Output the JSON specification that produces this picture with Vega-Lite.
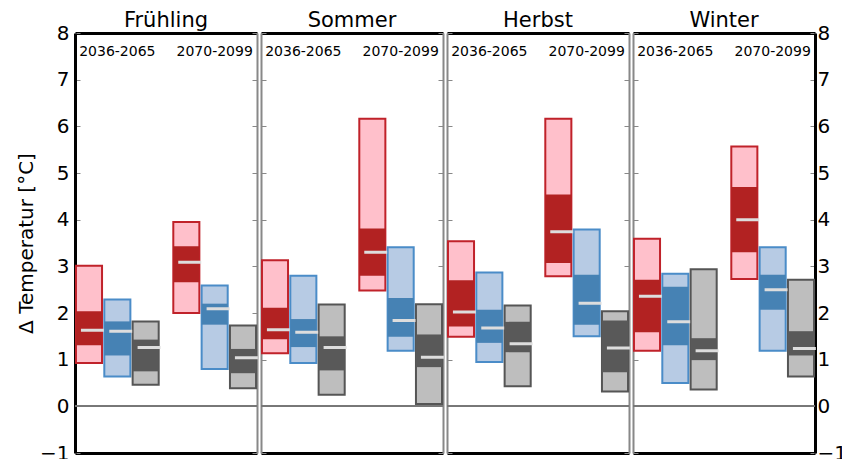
{
  "$schema": "https://vega.github.io/schema/vega-lite/v6.json",
  "padding": {"left": 16, "top": 10, "right": 2, "bottom": 4},
  "config": {
    "font": "DejaVu Sans",
    "view": {"stroke": null},
    "title": {"fontSize": 21, "fontWeight": "normal", "color": "black", "offset": -12, "font": "DejaVu Sans"},
    "axis": {"grid": false}
  },
  "datasets": {
    "bars": [
      {"season": "Frühling", "period": "2036-2065", "scenario": "RCP8.5", "min": 0.93, "lo": 1.31, "median": 1.63, "hi": 2.04, "max": 3.01},
      {"season": "Frühling", "period": "2036-2065", "scenario": "RCP4.5", "min": 0.64, "lo": 1.09, "median": 1.61, "hi": 1.82, "max": 2.29},
      {"season": "Frühling", "period": "2036-2065", "scenario": "RCP2.6", "min": 0.46, "lo": 0.75, "median": 1.26, "hi": 1.43, "max": 1.82},
      {"season": "Frühling", "period": "2070-2099", "scenario": "RCP8.5", "min": 2.0, "lo": 2.66, "median": 3.09, "hi": 3.43, "max": 3.95},
      {"season": "Frühling", "period": "2070-2099", "scenario": "RCP4.5", "min": 0.8, "lo": 1.75, "median": 2.09, "hi": 2.2, "max": 2.59},
      {"season": "Frühling", "period": "2070-2099", "scenario": "RCP2.6", "min": 0.39, "lo": 0.71, "median": 1.04, "hi": 1.23, "max": 1.73},
      {"season": "Sommer", "period": "2036-2065", "scenario": "RCP8.5", "min": 1.14, "lo": 1.44, "median": 1.64, "hi": 2.11, "max": 3.13},
      {"season": "Sommer", "period": "2036-2065", "scenario": "RCP4.5", "min": 0.93, "lo": 1.27, "median": 1.59, "hi": 1.87, "max": 2.8},
      {"season": "Sommer", "period": "2036-2065", "scenario": "RCP2.6", "min": 0.25, "lo": 0.77, "median": 1.26, "hi": 1.5, "max": 2.18},
      {"season": "Sommer", "period": "2070-2099", "scenario": "RCP8.5", "min": 2.48, "lo": 2.8, "median": 3.3, "hi": 3.81, "max": 6.16},
      {"season": "Sommer", "period": "2070-2099", "scenario": "RCP4.5", "min": 1.19, "lo": 1.49, "median": 1.84, "hi": 2.32, "max": 3.41},
      {"season": "Sommer", "period": "2070-2099", "scenario": "RCP2.6", "min": 0.05, "lo": 0.84, "median": 1.05, "hi": 1.54, "max": 2.19},
      {"season": "Herbst", "period": "2036-2065", "scenario": "RCP8.5", "min": 1.49, "lo": 1.71, "median": 2.02, "hi": 2.7, "max": 3.54},
      {"season": "Herbst", "period": "2036-2065", "scenario": "RCP4.5", "min": 0.95, "lo": 1.36, "median": 1.68, "hi": 2.07, "max": 2.87},
      {"season": "Herbst", "period": "2036-2065", "scenario": "RCP2.6", "min": 0.43, "lo": 1.16, "median": 1.34, "hi": 1.81, "max": 2.16},
      {"season": "Herbst", "period": "2070-2099", "scenario": "RCP8.5", "min": 2.79, "lo": 3.07, "median": 3.74, "hi": 4.54, "max": 6.16},
      {"season": "Herbst", "period": "2070-2099", "scenario": "RCP4.5", "min": 1.5, "lo": 1.75, "median": 2.21, "hi": 2.82, "max": 3.79},
      {"season": "Herbst", "period": "2070-2099", "scenario": "RCP2.6", "min": 0.32, "lo": 0.73, "median": 1.25, "hi": 1.84, "max": 2.04},
      {"season": "Winter", "period": "2036-2065", "scenario": "RCP8.5", "min": 1.19, "lo": 1.59, "median": 2.36, "hi": 2.71, "max": 3.59},
      {"season": "Winter", "period": "2036-2065", "scenario": "RCP4.5", "min": 0.5, "lo": 1.31, "median": 1.81, "hi": 2.56, "max": 2.84},
      {"season": "Winter", "period": "2036-2065", "scenario": "RCP2.6", "min": 0.36, "lo": 0.99, "median": 1.19, "hi": 1.46, "max": 2.94},
      {"season": "Winter", "period": "2070-2099", "scenario": "RCP8.5", "min": 2.73, "lo": 3.3, "median": 4.0, "hi": 4.7, "max": 5.57},
      {"season": "Winter", "period": "2070-2099", "scenario": "RCP4.5", "min": 1.19, "lo": 2.07, "median": 2.5, "hi": 2.82, "max": 3.41},
      {"season": "Winter", "period": "2070-2099", "scenario": "RCP2.6", "min": 0.64, "lo": 1.09, "median": 1.24, "hi": 1.61, "max": 2.71}
    ],
    "periods": [{"period": "2036-2065"}, {"period": "2070-2099"}]
  },
  "spacing": 0,
  "hconcat": [
    {
      "width": 182, "height": 420,
      "title": "Frühling",
      "resolve": {"axis": {"x": "independent", "y": "independent"}, "scale": {"fill": "independent", "stroke": "independent"}},
      "layer": [
        {"data": {"name": "bars"}, "transform": [{"filter": "datum.season == 'Frühling'"}],
         "mark": {"type": "rule", "stroke": "#777", "strokeWidth": 1.5},
         "encoding": {"y": {"datum": 0, "type": "quantitative", "scale": {"domain": [-1, 8], "nice": false, "zero": false},
           "axis": {"orient": "left", "values": [-1,0,1,2,3,4,5,6,7,8], "domainColor": "black", "domainWidth": 3, "tickColor": "#888", "tickSize": -5, "tickWidth": 1, "labelFontSize": 20, "labelColor": "black", "labelPadding": 11, "title": "Δ Temperatur [°C]", "titleFontSize": 20, "titleFontWeight": "normal", "titleColor": "black", "titlePadding": 3}}}},
        {"data": {"name": "bars"}, "transform": [{"filter": "datum.season == 'Frühling'"}],
         "mark": {"type": "bar", "strokeWidth": 2, "width": {"band": 1}},
         "encoding": {
           "x": {"field": "period", "type": "nominal", "scale": {"paddingInner": 0.15, "paddingOuter": 0.01}, "axis": {"orient": "bottom", "labels": false, "ticks": false, "title": null, "domainColor": "black", "domainWidth": 3}},
           "xOffset": {"field": "scenario", "type": "nominal", "sort": ["RCP8.5", "RCP4.5", "RCP2.6"], "scale": {"paddingInner": 0.08}},
           "y": {"field": "min", "type": "quantitative", "axis": {"orient": "right", "values": [-1,0,1,2,3,4,5,6,7,8], "labels": false, "title": null, "domainColor": "#888", "domainWidth": 2, "tickColor": "#888", "tickSize": -5}},
           "y2": {"field": "max"},
           "fill": {"field": "scenario", "type": "nominal", "scale": {"domain": ["RCP8.5", "RCP4.5", "RCP2.6"], "range": ["#ffc0cb", "#b7cbe4", "#bebebe"]}, "legend": null},
           "stroke": {"field": "scenario", "type": "nominal", "scale": {"domain": ["RCP8.5", "RCP4.5", "RCP2.6"], "range": ["#c0222a", "#4a8cc8", "#555555"]}, "legend": null}
         }},
        {"data": {"name": "bars"}, "transform": [{"filter": "datum.season == 'Frühling'"}],
         "mark": {"type": "bar", "width": {"band": 1}},
         "encoding": {
           "x": {"field": "period", "type": "nominal", "axis": {"orient": "top", "labels": false, "ticks": true, "tickSize": 14, "tickOpacity": 0, "title": null, "domainColor": "black", "domainWidth": 3}},
           "xOffset": {"field": "scenario", "type": "nominal", "sort": ["RCP8.5", "RCP4.5", "RCP2.6"]},
           "y": {"field": "lo", "type": "quantitative", "axis": null},
           "y2": {"field": "hi"},
           "fill": {"field": "scenario", "type": "nominal", "scale": {"domain": ["RCP8.5", "RCP4.5", "RCP2.6"], "range": ["#b22222", "#4682b4", "#595959"]}, "legend": null}
         }},
        {"data": {"name": "bars"}, "transform": [{"filter": "datum.season == 'Frühling'"}],
         "mark": {"type": "bar", "width": {"band": 0.88}, "stroke": "#dddddd", "strokeWidth": 3, "fill": "#dddddd"},
         "encoding": {
           "x": {"field": "period", "type": "nominal", "axis": null},
           "xOffset": {"field": "scenario", "type": "nominal", "sort": ["RCP8.5", "RCP4.5", "RCP2.6"]},
           "y": {"field": "median", "type": "quantitative", "axis": null},
           "y2": {"field": "median"}
         }},
        {"data": {"name": "periods"},
         "mark": {"type": "text", "fontSize": 14, "color": "black", "baseline": "middle"},
         "encoding": {
           "x": {"field": "period", "type": "nominal", "axis": null},
           "y": {"datum": 7.6, "type": "quantitative", "axis": null},
           "text": {"field": "period"}
         }}
      ]
    },
    {
      "width": 182, "height": 420,
      "title": "Sommer",
      "resolve": {"axis": {"x": "independent", "y": "independent"}, "scale": {"fill": "independent", "stroke": "independent"}},
      "layer": [
        {"data": {"name": "bars"}, "transform": [{"filter": "datum.season == 'Sommer'"}],
         "mark": {"type": "rule", "stroke": "#777", "strokeWidth": 1.5},
         "encoding": {"y": {"datum": 0, "type": "quantitative", "scale": {"domain": [-1, 8], "nice": false, "zero": false},
           "axis": {"orient": "left", "values": [-1,0,1,2,3,4,5,6,7,8], "labels": false, "title": null, "domainColor": "#888", "domainWidth": 2, "tickColor": "#888", "tickSize": -5}}}},
        {"data": {"name": "bars"}, "transform": [{"filter": "datum.season == 'Sommer'"}],
         "mark": {"type": "bar", "strokeWidth": 2, "width": {"band": 1}},
         "encoding": {
           "x": {"field": "period", "type": "nominal", "scale": {"paddingInner": 0.15, "paddingOuter": 0.01}, "axis": {"orient": "bottom", "labels": false, "ticks": false, "title": null, "domainColor": "black", "domainWidth": 3}},
           "xOffset": {"field": "scenario", "type": "nominal", "sort": ["RCP8.5", "RCP4.5", "RCP2.6"], "scale": {"paddingInner": 0.08}},
           "y": {"field": "min", "type": "quantitative", "axis": {"orient": "right", "values": [-1,0,1,2,3,4,5,6,7,8], "labels": false, "title": null, "domainColor": "#888", "domainWidth": 2, "tickColor": "#888", "tickSize": -5}},
           "y2": {"field": "max"},
           "fill": {"field": "scenario", "type": "nominal", "scale": {"domain": ["RCP8.5", "RCP4.5", "RCP2.6"], "range": ["#ffc0cb", "#b7cbe4", "#bebebe"]}, "legend": null},
           "stroke": {"field": "scenario", "type": "nominal", "scale": {"domain": ["RCP8.5", "RCP4.5", "RCP2.6"], "range": ["#c0222a", "#4a8cc8", "#555555"]}, "legend": null}
         }},
        {"data": {"name": "bars"}, "transform": [{"filter": "datum.season == 'Sommer'"}],
         "mark": {"type": "bar", "width": {"band": 1}},
         "encoding": {
           "x": {"field": "period", "type": "nominal", "axis": {"orient": "top", "labels": false, "ticks": true, "tickSize": 14, "tickOpacity": 0, "title": null, "domainColor": "black", "domainWidth": 3}},
           "xOffset": {"field": "scenario", "type": "nominal", "sort": ["RCP8.5", "RCP4.5", "RCP2.6"]},
           "y": {"field": "lo", "type": "quantitative", "axis": null},
           "y2": {"field": "hi"},
           "fill": {"field": "scenario", "type": "nominal", "scale": {"domain": ["RCP8.5", "RCP4.5", "RCP2.6"], "range": ["#b22222", "#4682b4", "#595959"]}, "legend": null}
         }},
        {"data": {"name": "bars"}, "transform": [{"filter": "datum.season == 'Sommer'"}],
         "mark": {"type": "bar", "width": {"band": 0.88}, "stroke": "#dddddd", "strokeWidth": 3, "fill": "#dddddd"},
         "encoding": {
           "x": {"field": "period", "type": "nominal", "axis": null},
           "xOffset": {"field": "scenario", "type": "nominal", "sort": ["RCP8.5", "RCP4.5", "RCP2.6"]},
           "y": {"field": "median", "type": "quantitative", "axis": null},
           "y2": {"field": "median"}
         }},
        {"data": {"name": "periods"},
         "mark": {"type": "text", "fontSize": 14, "color": "black", "baseline": "middle"},
         "encoding": {
           "x": {"field": "period", "type": "nominal", "axis": null},
           "y": {"datum": 7.6, "type": "quantitative", "axis": null},
           "text": {"field": "period"}
         }}
      ]
    },
    {
      "width": 182, "height": 420,
      "title": "Herbst",
      "resolve": {"axis": {"x": "independent", "y": "independent"}, "scale": {"fill": "independent", "stroke": "independent"}},
      "layer": [
        {"data": {"name": "bars"}, "transform": [{"filter": "datum.season == 'Herbst'"}],
         "mark": {"type": "rule", "stroke": "#777", "strokeWidth": 1.5},
         "encoding": {"y": {"datum": 0, "type": "quantitative", "scale": {"domain": [-1, 8], "nice": false, "zero": false},
           "axis": {"orient": "left", "values": [-1,0,1,2,3,4,5,6,7,8], "labels": false, "title": null, "domainColor": "#888", "domainWidth": 2, "tickColor": "#888", "tickSize": -5}}}},
        {"data": {"name": "bars"}, "transform": [{"filter": "datum.season == 'Herbst'"}],
         "mark": {"type": "bar", "strokeWidth": 2, "width": {"band": 1}},
         "encoding": {
           "x": {"field": "period", "type": "nominal", "scale": {"paddingInner": 0.15, "paddingOuter": 0.01}, "axis": {"orient": "bottom", "labels": false, "ticks": false, "title": null, "domainColor": "black", "domainWidth": 3}},
           "xOffset": {"field": "scenario", "type": "nominal", "sort": ["RCP8.5", "RCP4.5", "RCP2.6"], "scale": {"paddingInner": 0.08}},
           "y": {"field": "min", "type": "quantitative", "axis": {"orient": "right", "values": [-1,0,1,2,3,4,5,6,7,8], "labels": false, "title": null, "domainColor": "#888", "domainWidth": 2, "tickColor": "#888", "tickSize": -5}},
           "y2": {"field": "max"},
           "fill": {"field": "scenario", "type": "nominal", "scale": {"domain": ["RCP8.5", "RCP4.5", "RCP2.6"], "range": ["#ffc0cb", "#b7cbe4", "#bebebe"]}, "legend": null},
           "stroke": {"field": "scenario", "type": "nominal", "scale": {"domain": ["RCP8.5", "RCP4.5", "RCP2.6"], "range": ["#c0222a", "#4a8cc8", "#555555"]}, "legend": null}
         }},
        {"data": {"name": "bars"}, "transform": [{"filter": "datum.season == 'Herbst'"}],
         "mark": {"type": "bar", "width": {"band": 1}},
         "encoding": {
           "x": {"field": "period", "type": "nominal", "axis": {"orient": "top", "labels": false, "ticks": true, "tickSize": 14, "tickOpacity": 0, "title": null, "domainColor": "black", "domainWidth": 3}},
           "xOffset": {"field": "scenario", "type": "nominal", "sort": ["RCP8.5", "RCP4.5", "RCP2.6"]},
           "y": {"field": "lo", "type": "quantitative", "axis": null},
           "y2": {"field": "hi"},
           "fill": {"field": "scenario", "type": "nominal", "scale": {"domain": ["RCP8.5", "RCP4.5", "RCP2.6"], "range": ["#b22222", "#4682b4", "#595959"]}, "legend": null}
         }},
        {"data": {"name": "bars"}, "transform": [{"filter": "datum.season == 'Herbst'"}],
         "mark": {"type": "bar", "width": {"band": 0.88}, "stroke": "#dddddd", "strokeWidth": 3, "fill": "#dddddd"},
         "encoding": {
           "x": {"field": "period", "type": "nominal", "axis": null},
           "xOffset": {"field": "scenario", "type": "nominal", "sort": ["RCP8.5", "RCP4.5", "RCP2.6"]},
           "y": {"field": "median", "type": "quantitative", "axis": null},
           "y2": {"field": "median"}
         }},
        {"data": {"name": "periods"},
         "mark": {"type": "text", "fontSize": 14, "color": "black", "baseline": "middle"},
         "encoding": {
           "x": {"field": "period", "type": "nominal", "axis": null},
           "y": {"datum": 7.6, "type": "quantitative", "axis": null},
           "text": {"field": "period"}
         }}
      ]
    },
    {
      "width": 182, "height": 420,
      "title": "Winter",
      "resolve": {"axis": {"x": "independent", "y": "independent"}, "scale": {"fill": "independent", "stroke": "independent"}},
      "layer": [
        {"data": {"name": "bars"}, "transform": [{"filter": "datum.season == 'Winter'"}],
         "mark": {"type": "rule", "stroke": "#777", "strokeWidth": 1.5},
         "encoding": {"y": {"datum": 0, "type": "quantitative", "scale": {"domain": [-1, 8], "nice": false, "zero": false},
           "axis": {"orient": "left", "values": [-1,0,1,2,3,4,5,6,7,8], "labels": false, "title": null, "domainColor": "#888", "domainWidth": 2, "tickColor": "#888", "tickSize": -5}}}},
        {"data": {"name": "bars"}, "transform": [{"filter": "datum.season == 'Winter'"}],
         "mark": {"type": "bar", "strokeWidth": 2, "width": {"band": 1}},
         "encoding": {
           "x": {"field": "period", "type": "nominal", "scale": {"paddingInner": 0.15, "paddingOuter": 0.01}, "axis": {"orient": "bottom", "labels": false, "ticks": false, "title": null, "domainColor": "black", "domainWidth": 3}},
           "xOffset": {"field": "scenario", "type": "nominal", "sort": ["RCP8.5", "RCP4.5", "RCP2.6"], "scale": {"paddingInner": 0.08}},
           "y": {"field": "min", "type": "quantitative", "axis": {"orient": "right", "values": [-1,0,1,2,3,4,5,6,7,8], "domainColor": "black", "domainWidth": 3, "tickColor": "#888", "tickSize": -5, "labelFontSize": 20, "labelColor": "black", "labelPadding": 7, "title": null}},
           "y2": {"field": "max"},
           "fill": {"field": "scenario", "type": "nominal", "scale": {"domain": ["RCP8.5", "RCP4.5", "RCP2.6"], "range": ["#ffc0cb", "#b7cbe4", "#bebebe"]}, "legend": null},
           "stroke": {"field": "scenario", "type": "nominal", "scale": {"domain": ["RCP8.5", "RCP4.5", "RCP2.6"], "range": ["#c0222a", "#4a8cc8", "#555555"]}, "legend": null}
         }},
        {"data": {"name": "bars"}, "transform": [{"filter": "datum.season == 'Winter'"}],
         "mark": {"type": "bar", "width": {"band": 1}},
         "encoding": {
           "x": {"field": "period", "type": "nominal", "axis": {"orient": "top", "labels": false, "ticks": true, "tickSize": 14, "tickOpacity": 0, "title": null, "domainColor": "black", "domainWidth": 3}},
           "xOffset": {"field": "scenario", "type": "nominal", "sort": ["RCP8.5", "RCP4.5", "RCP2.6"]},
           "y": {"field": "lo", "type": "quantitative", "axis": null},
           "y2": {"field": "hi"},
           "fill": {"field": "scenario", "type": "nominal", "scale": {"domain": ["RCP8.5", "RCP4.5", "RCP2.6"], "range": ["#b22222", "#4682b4", "#595959"]}, "legend": null}
         }},
        {"data": {"name": "bars"}, "transform": [{"filter": "datum.season == 'Winter'"}],
         "mark": {"type": "bar", "width": {"band": 0.88}, "stroke": "#dddddd", "strokeWidth": 3, "fill": "#dddddd"},
         "encoding": {
           "x": {"field": "period", "type": "nominal", "axis": null},
           "xOffset": {"field": "scenario", "type": "nominal", "sort": ["RCP8.5", "RCP4.5", "RCP2.6"]},
           "y": {"field": "median", "type": "quantitative", "axis": null},
           "y2": {"field": "median"}
         }},
        {"data": {"name": "periods"},
         "mark": {"type": "text", "fontSize": 14, "color": "black", "baseline": "middle"},
         "encoding": {
           "x": {"field": "period", "type": "nominal", "axis": null},
           "y": {"datum": 7.6, "type": "quantitative", "axis": null},
           "text": {"field": "period"}
         }}
      ]
    }
  ]
}
